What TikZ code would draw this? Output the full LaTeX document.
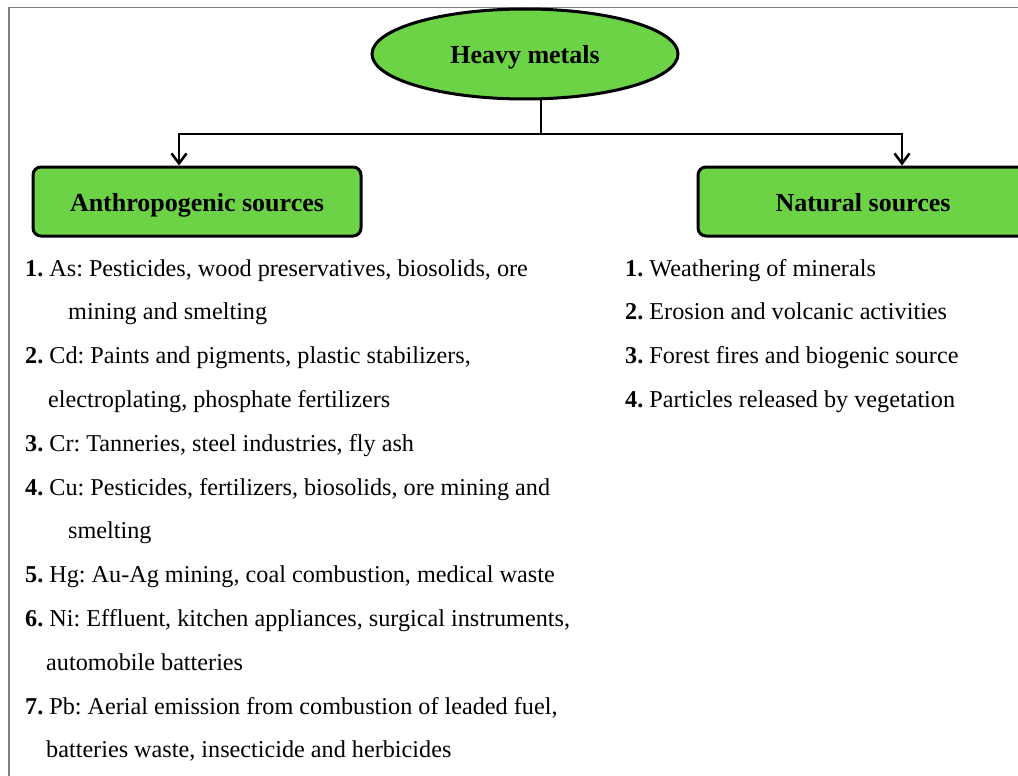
\documentclass[tikz,border=0pt]{standalone}
\usepackage{fontspec}
\setmainfont{Liberation Serif}
\usetikzlibrary{shapes.geometric,arrows.meta}
\definecolor{boxgreen}{RGB}{108,211,70}
\definecolor{framegray}{RGB}{128,128,128}
\frenchspacing
\tikzset{
  hmell/.style={ellipse,draw=black,fill=boxgreen,line width=3pt,minimum width=306pt,minimum height=90pt,inner sep=0pt,text height=22pt,text depth=3.4pt,font=\fontsize{26}{30}\selectfont\bfseries},
  srcbox/.style={rectangle,rounded corners=8pt,draw=black,fill=boxgreen,line width=3pt,minimum height=69pt,inner sep=0pt,text height=24pt,text depth=3.6pt,font=\fontsize{26}{30}\selectfont\bfseries},
  conn/.style={line width=2.5pt,draw=black},
  arr/.style={conn,-{Straight Barb[length=10pt,width=15pt,line width=2.5pt]}},
  item/.style={anchor=base west,inner sep=0pt,font=\fontsize{24.2}{28}\selectfont}
}
\begin{document}
\begin{tikzpicture}[x=1pt,y=-1pt]
\useasboundingbox (0,0) rectangle (1018,776);
\draw[framegray,line width=1.5pt] (9,790) -- (9,7.5) -- (1030,7.5);

\node[hmell] (hm) at (525,54) {Heavy metals};
\node[srcbox,minimum width=328pt] (anth) at (197,201.5) {Anthropogenic sources};
\node[srcbox,minimum width=330pt] (nat) at (863,201.5) {Natural sources};

\coordinate (j) at (541,134);
\coordinate (a1) at (179,134);
\coordinate (a2) at (902,134);
\draw[conn] (j |- hm.south) -- (j);
\draw[arr] (j) -- (a1) -- (a1 |- anth.north);
\draw[arr] (j) -- (a2) -- (a2 |- nat.north);

\node[item] (l1) at (25,276) {\textbf{1.} As: Pesticides, wood preservatives, biosolids, ore};
\node[item] (l2) at (68,319.8) {mining and smelting};
\node[item] (l3) at (25,363.6) {\textbf{2.} Cd: Paints and pigments, plastic stabilizers,};
\node[item] (l4) at (48,407.4) {electroplating, phosphate fertilizers};
\node[item] (l5) at (25,451.2) {\textbf{3.} Cr: Tanneries, steel industries, fly ash};
\node[item] (l6) at (25,495) {\textbf{4.} Cu: Pesticides, fertilizers, biosolids, ore mining and};
\node[item] (l7) at (68,538.8) {smelting};
\node[item] (l8) at (25,582.6) {\textbf{5.} Hg: Au-Ag mining, coal combustion, medical waste};
\node[item] (l9) at (25,626.4) {\textbf{6.} Ni: Effluent, kitchen appliances, surgical instruments,};
\node[item] (l10) at (46,670.2) {automobile batteries};
\node[item] (l11) at (25,714) {\textbf{7.} Pb: Aerial emission from combustion of leaded fuel,};
\node[item] (l12) at (46,757.8) {batteries waste, insecticide and herbicides};

\node[item] (r1) at (625,276) {\textbf{1.} Weathering of minerals};
\node[item] (r2) at (625,319.8) {\textbf{2.} Erosion and volcanic activities};
\node[item] (r3) at (625,363.6) {\textbf{3.} Forest fires and biogenic source};
\node[item] (r4) at (625,407.4) {\textbf{4.} Particles released by vegetation};
\end{tikzpicture}
\end{document}
